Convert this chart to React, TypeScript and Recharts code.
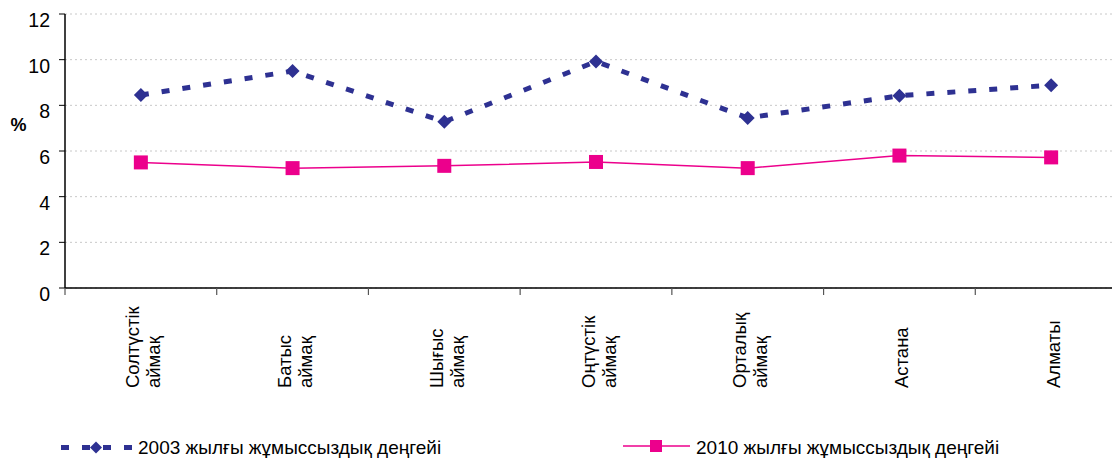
import { CartesianGrid, ComposedChart, Line, XAxis, YAxis } from "recharts";

const regions = ["Солтүстік\nаймақ", "Батыс\nаймақ", "Шығыс\nаймақ", "Оңтүстік\nаймақ", "Орталық\nаймақ", "Астана", "Алматы"];
const rate2003 = [8.45, 9.5, 7.28, 9.92, 7.45, 8.42, 8.88];
const rate2010 = [5.5, 5.25, 5.35, 5.52, 5.25, 5.8, 5.72];
const yTicks = [0, 2, 4, 6, 8, 10, 12];
const name2003 = "2003 жылғы жұмыссыздық деңгейі";
const name2010 = "2010 жылғы жұмыссыздық деңгейі";

const NAVY = "#2E3192";
const PINK = "#EC008C";
const FONT = "'Liberation Sans', Arial, sans-serif";

const CHART_W = 1127;
const CHART_H = 459;
const PLOT_LEFT = 65;
const BAND = (CHART_W - PLOT_LEFT) / regions.length;

const data = regions.map((r, i) => ({ region: r, y2003: rate2003[i], y2010: rate2010[i] }));

function YTick({ x, y, payload }: any) {
  return (
    <text x={x} y={y + 6} dy="0.355em" textAnchor="end" fontSize={19.5} fill="#000" fontFamily={FONT}>
      {payload.value}
    </text>
  );
}

function XTick({ x, y, payload }: any) {
  const lines = String(payload.value).split("\n");
  const n = lines.length;
  const bx = x - BAND / 2;
  return (
    <g>
      <line x1={bx} y1={y} x2={bx} y2={y + 7} stroke="#555" strokeWidth={1.2} />
      <g transform={`translate(${x},${y + 100}) rotate(-90)`}>
        {lines.map((l, i) => (
          <text key={i} x={0} y={9 + (i - (n - 1) / 2) * 21} textAnchor="start" fontSize={18.5} fill="#000" fontFamily={FONT}>
            {l}
          </text>
        ))}
      </g>
    </g>
  );
}

function Diamond({ cx, cy }: any) {
  if (cx == null || cy == null) return null;
  const r = 7;
  return <path d={`M${cx},${cy - r}L${cx + r},${cy}L${cx},${cy + r}L${cx - r},${cy}Z`} fill={NAVY} />;
}

function Square({ cx, cy }: any) {
  if (cx == null || cy == null) return null;
  const s = 14;
  return <rect x={cx - s / 2} y={cy - s / 2} width={s} height={s} fill={PINK} />;
}

function PercentLabel({ viewBox }: any) {
  return (
    <text x={viewBox.x + 10.5} y={viewBox.y + 111} dy="0.355em" textAnchor="middle" fontSize={18} fontWeight="bold" fill="#000" fontFamily={FONT}>
      %
    </text>
  );
}

function LegendBar() {
  return (
    <div style={{ position: "absolute", left: 0, top: 436, width: 1112, height: 23, fontFamily: FONT, fontSize: 19, lineHeight: "23px", color: "#000" }}>
      <svg width={80} height={23} style={{ position: "absolute", left: 58, top: 0 }}>
        <line x1={3} y1={11.5} x2={75} y2={11.5} stroke={NAVY} strokeWidth={5} strokeDasharray="8 13" />
        <path d="M38,5.5L44,11.5L38,17.5L32,11.5Z" fill={NAVY} />
      </svg>
      <span style={{ position: "absolute", left: 138, top: 0, whiteSpace: "nowrap" }}>{name2003}</span>
      <svg width={72} height={23} style={{ position: "absolute", left: 620, top: 0 }}>
        <line x1={3} y1={10} x2={70} y2={10} stroke={PINK} strokeWidth={1.5} />
        <rect x={30} y={4} width={12} height={12} fill={PINK} />
      </svg>
      <span style={{ position: "absolute", left: 696, top: 0, whiteSpace: "nowrap" }}>{name2010}</span>
    </div>
  );
}

export default function App() {
  return (
    <div style={{ position: "fixed", left: 0, top: 0, width: 1112, height: 459, overflow: "hidden", background: "#fff" }}>
      <ComposedChart width={CHART_W} height={CHART_H} data={data} margin={{ top: 14, right: 0, left: 8, bottom: 0 }}>
        <CartesianGrid horizontal vertical={false} stroke="#c8c8c8" strokeDasharray="2 3" />
        <XAxis
          dataKey="region"
          scale="band"
          height={171}
          tickLine={false}
          tickSize={0}
          tickMargin={0}
          axisLine={{ stroke: "#000", strokeWidth: 1.5 }}
          tick={<XTick />}
          interval={0}
        />
        <YAxis
          width={57}
          domain={[0, 12]}
          ticks={yTicks}
          interval={0}
          tickSize={6}
          tickMargin={9}
          tickLine={{ stroke: "#000" }}
          axisLine={{ stroke: "#000", strokeWidth: 1.5 }}
          tick={<YTick />}
          label={<PercentLabel />}
        />
        <Line
          dataKey="y2010"
          name={name2010}
          stroke={PINK}
          strokeWidth={1.5}
          dot={<Square />}
          activeDot={false}
          isAnimationActive={false}
        />
        <Line
          dataKey="y2003"
          name={name2003}
          stroke={NAVY}
          strokeWidth={5}
          strokeDasharray="8 13"
          dot={<Diamond />}
          activeDot={false}
          isAnimationActive={false}
        />
      </ComposedChart>
      <LegendBar />
    </div>
  );
}
